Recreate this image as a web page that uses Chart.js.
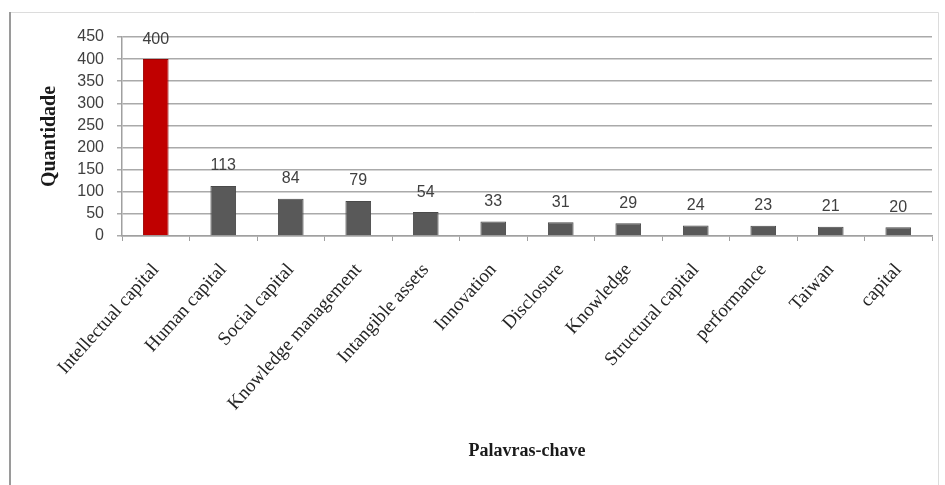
<!DOCTYPE html>
<html>
<head>
<meta charset="utf-8">
<script src="https://cdn.jsdelivr.net/npm/chart.js@4/dist/chart.umd.min.js"></script>
<style>
  html, body { margin: 0; padding: 0; background: #fff; }
  #c { display: block; }
</style>
</head>
<body>
<canvas id="c" width="945" height="485"></canvas>
<script>
// Keyword frequencies
const keywords = [
  'Intellectual capital', 'Human capital', 'Social capital', 'Knowledge management',
  'Intangible assets', 'Innovation', 'Disclosure', 'Knowledge',
  'Structural capital', 'performance', 'Taiwan', 'capital'
];
const counts = [400, 113, 84, 79, 54, 33, 31, 29, 24, 23, 21, 20];
const yTicks = [0, 50, 100, 150, 200, 250, 300, 350, 400, 450];

const barColors = counts.map((v, i) => i === 0 ? '#c00000' : '#595959');
const barBorders = counts.map((v, i) => i === 0 ? '#9a0000' : '#4a4a4a');

// White page with a thin frame around the chart
const framePlugin = {
  id: 'frame',
  beforeDraw(chart) {
    const ctx = chart.ctx;
    ctx.save();
    ctx.fillStyle = '#ffffff';
    ctx.fillRect(0, 0, chart.width, chart.height);
    ctx.strokeStyle = '#dcdcdc';
    ctx.lineWidth = 1;
    ctx.beginPath();
    ctx.moveTo(10, 12.5);
    ctx.lineTo(938.5, 12.5);
    ctx.lineTo(938.5, chart.height);
    ctx.stroke();
    ctx.strokeStyle = '#9a9a9a';
    ctx.lineWidth = 2;
    ctx.beginPath();
    ctx.moveTo(10, 12);
    ctx.lineTo(10, chart.height);
    ctx.stroke();
    ctx.restore();
  }
};

// Value printed above each bar
const valueLabels = {
  id: 'valueLabels',
  afterDatasetsDraw(chart) {
    const ctx = chart.ctx;
    const meta = chart.getDatasetMeta(0);
    const data = chart.data.datasets[0].data;
    ctx.save();
    ctx.font = '16px "Liberation Sans", Arial, sans-serif';
    ctx.fillStyle = '#404040';
    ctx.textAlign = 'center';
    ctx.textBaseline = 'middle';
    meta.data.forEach((bar, i) => {
      ctx.fillText(String(data[i]), bar.x, bar.y - 20);
    });
    ctx.restore();
  }
};

new Chart(document.getElementById('c'), {
  type: 'bar',
  data: {
    labels: keywords,
    datasets: [{
      data: counts,
      backgroundColor: barColors,
      borderColor: barBorders,
      borderWidth: 1,
      barPercentage: 0.38,
      categoryPercentage: 1.0
    }]
  },
  options: {
    responsive: false,
    animation: false,
    devicePixelRatio: 1,
    layout: { padding: { top: 37, right: 13, left: 0, bottom: 0 } },
    plugins: {
      legend: { display: false },
      tooltip: { enabled: false }
    },
    scales: {
      x: {
        offset: true,
        grid: {
          offset: true,
          drawOnChartArea: false,
          drawTicks: true,
          tickLength: 5,
          color: '#a0a0a0',
          lineWidth: 1
        },
        border: { display: true, color: '#a0a0a0', width: 1.5 },
        ticks: {
          minRotation: 48,
          maxRotation: 48,
          autoSkip: false,
          padding: 18,
          color: '#262626',
          font: { family: '"Liberation Serif", "Times New Roman", serif', size: 19 }
        },
        title: {
          display: true,
          text: 'Palavras-chave',
          color: '#1a1a1a',
          padding: { top: 4, bottom: 23 },
          font: { family: '"Liberation Serif", "Times New Roman", serif', size: 18, weight: 'bold' }
        },
        afterFit(scale) { scale.height = 249; }
      },
      y: {
        min: 0,
        max: 450,
        afterBuildTicks(scale) { scale.ticks = yTicks.map(v => ({ value: v })); },
        grid: {
          color: '#aaaaaa',
          lineWidth: 1.5,
          drawTicks: true,
          tickLength: 5
        },
        border: { display: true, color: '#a0a0a0', width: 1.5 },
        ticks: {
          autoSkip: false,
          padding: 13,
          color: '#404040',
          font: { family: '"Liberation Sans", Arial, sans-serif', size: 16 }
        },
        title: {
          display: true,
          text: 'Quantidade',
          color: '#1a1a1a',
          padding: { top: 38, bottom: 0 },
          font: { family: '"Liberation Serif", "Times New Roman", serif', size: 20, weight: 'bold' }
        },
        afterFit(scale) { scale.width = 122; }
      }
    }
  },
  plugins: [framePlugin, valueLabels]
});
</script>
</body>
</html>
